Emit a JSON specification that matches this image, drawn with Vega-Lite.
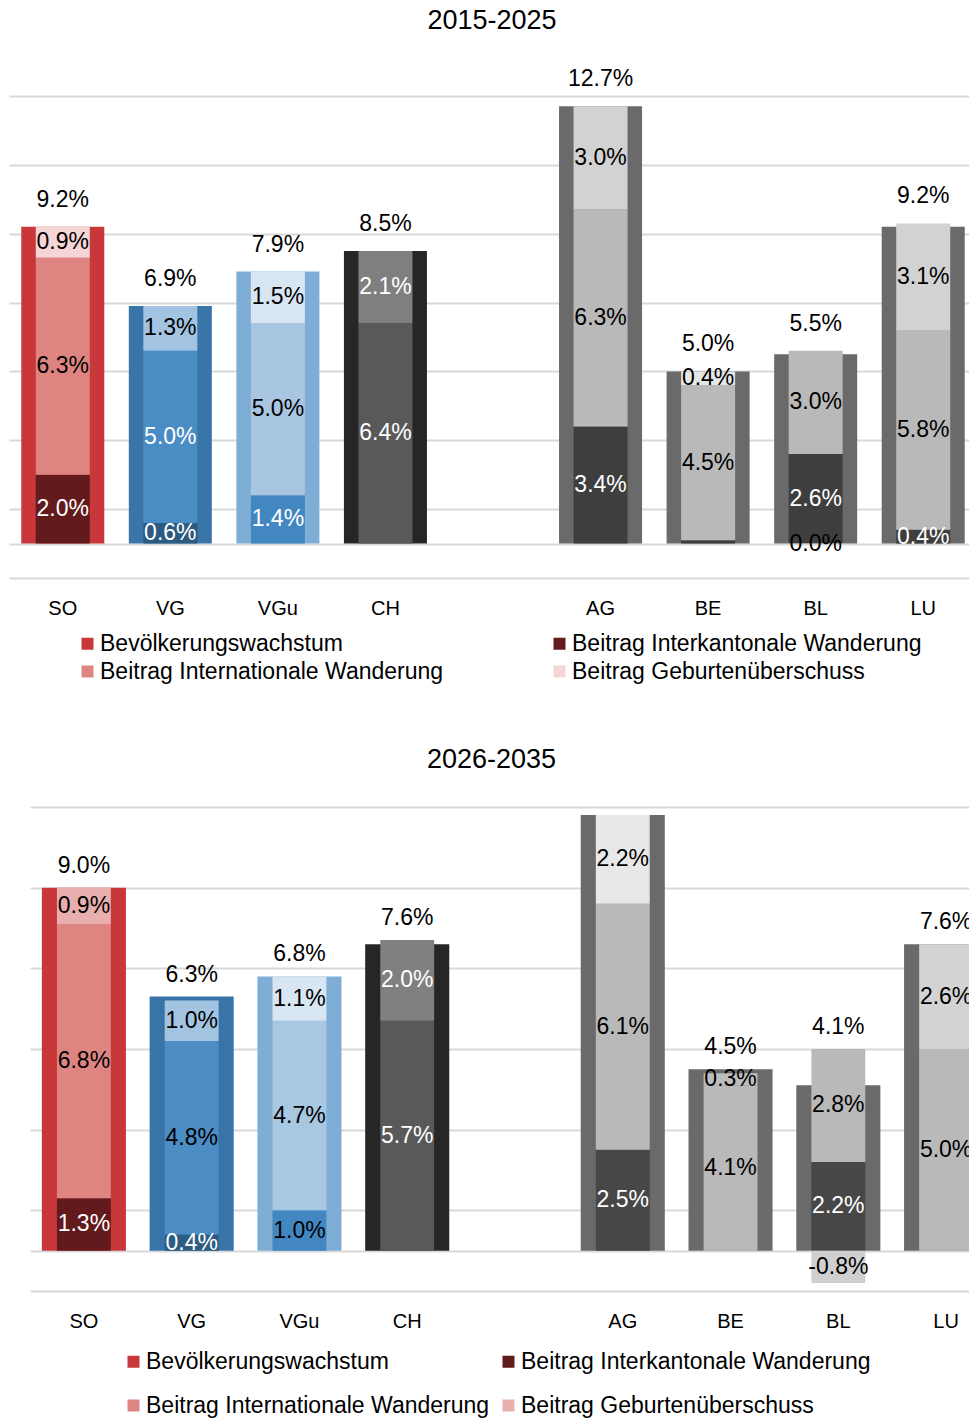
{
  "$schema": "https://vega.github.io/schema/vega-lite/v6.json",
  "padding": {"left": 9, "top": 7, "right": 0, "bottom": 0},
  "columns": 1,
  "spacing": 62,
  "resolve": {"scale": {"color": "independent", "fill": "independent"}, "legend": {"color": "independent", "fill": "independent"}},
  "config": {
    "view": {"stroke": null},
    "font": "Liberation Sans",
    "locale": {"number": {"decimal": ".", "thousands": ",", "grouping": [3], "currency": ["", ""], "minus": "-"}},
    "title": {"fontSize": 27, "fontWeight": "normal", "color": "#000000", "font": "Liberation Sans", "anchor": "middle"},
    "axisX": {"domain": false, "ticks": false, "tickSize": 0, "labelPadding": 20, "labelFontSize": 20, "labelColor": "#000000", "grid": false, "title": null, "labelAngle": 0},
    "axisY": {"domain": false, "ticks": false, "tickSize": 0, "labels": false, "grid": true, "gridColor": "#d9d9d9", "gridWidth": 2, "title": null, "minExtent": 0, "maxExtent": 0},
    "legend": {"padding": 0, "labelFontSize": 23, "labelColor": "#000000", "labelFont": "Liberation Sans", "symbolType": "square", "symbolSize": 144, "symbolStrokeWidth": 0, "symbolOpacity": 1, "labelOffset": 1, "labelLimit": 600}
  },
  "datasets": {
    "werte": [
      {"Zeitraum": "2015-2025", "Kanton": "SO", "Komponente": "Bevölkerungswachstum", "Ebene": "Gesamt", "Schicht": 0, "Reihe": "SO Gesamt", "Wert": 0.092},
      {"Zeitraum": "2015-2025", "Kanton": "SO", "Komponente": "Beitrag Interkantonale Wanderung", "Ebene": "Beitrag", "Schicht": 1, "Reihe": "SO Interkantonal", "Wert": 0.020},
      {"Zeitraum": "2015-2025", "Kanton": "SO", "Komponente": "Beitrag Internationale Wanderung", "Ebene": "Beitrag", "Schicht": 2, "Reihe": "SO International", "Wert": 0.063},
      {"Zeitraum": "2015-2025", "Kanton": "SO", "Komponente": "Beitrag Geburtenüberschuss", "Ebene": "Beitrag", "Schicht": 3, "Reihe": "SO Geburten", "Wert": 0.009},
      {"Zeitraum": "2015-2025", "Kanton": "VG", "Komponente": "Bevölkerungswachstum", "Ebene": "Gesamt", "Schicht": 0, "Reihe": "VG Gesamt", "Wert": 0.069},
      {"Zeitraum": "2015-2025", "Kanton": "VG", "Komponente": "Beitrag Interkantonale Wanderung", "Ebene": "Beitrag", "Schicht": 1, "Reihe": "VG Interkantonal", "Wert": 0.006},
      {"Zeitraum": "2015-2025", "Kanton": "VG", "Komponente": "Beitrag Internationale Wanderung", "Ebene": "Beitrag", "Schicht": 2, "Reihe": "VG International", "Wert": 0.050},
      {"Zeitraum": "2015-2025", "Kanton": "VG", "Komponente": "Beitrag Geburtenüberschuss", "Ebene": "Beitrag", "Schicht": 3, "Reihe": "VG Geburten", "Wert": 0.013},
      {"Zeitraum": "2015-2025", "Kanton": "VGu", "Komponente": "Bevölkerungswachstum", "Ebene": "Gesamt", "Schicht": 0, "Reihe": "VGu Gesamt", "Wert": 0.079},
      {"Zeitraum": "2015-2025", "Kanton": "VGu", "Komponente": "Beitrag Interkantonale Wanderung", "Ebene": "Beitrag", "Schicht": 1, "Reihe": "VGu Interkantonal", "Wert": 0.014},
      {"Zeitraum": "2015-2025", "Kanton": "VGu", "Komponente": "Beitrag Internationale Wanderung", "Ebene": "Beitrag", "Schicht": 2, "Reihe": "VGu International", "Wert": 0.050},
      {"Zeitraum": "2015-2025", "Kanton": "VGu", "Komponente": "Beitrag Geburtenüberschuss", "Ebene": "Beitrag", "Schicht": 3, "Reihe": "VGu Geburten", "Wert": 0.015},
      {"Zeitraum": "2015-2025", "Kanton": "CH", "Komponente": "Bevölkerungswachstum", "Ebene": "Gesamt", "Schicht": 0, "Reihe": "CH Gesamt", "Wert": 0.085},
      {"Zeitraum": "2015-2025", "Kanton": "CH", "Komponente": "Beitrag Internationale Wanderung", "Ebene": "Beitrag", "Schicht": 2, "Reihe": "CH International", "Wert": 0.064},
      {"Zeitraum": "2015-2025", "Kanton": "CH", "Komponente": "Beitrag Geburtenüberschuss", "Ebene": "Beitrag", "Schicht": 3, "Reihe": "CH Geburten", "Wert": 0.021},
      {"Zeitraum": "2015-2025", "Kanton": "AG", "Komponente": "Bevölkerungswachstum", "Ebene": "Gesamt", "Schicht": 0, "Reihe": "AG Gesamt", "Wert": 0.127},
      {"Zeitraum": "2015-2025", "Kanton": "AG", "Komponente": "Beitrag Interkantonale Wanderung", "Ebene": "Beitrag", "Schicht": 1, "Reihe": "AG Interkantonal", "Wert": 0.034},
      {"Zeitraum": "2015-2025", "Kanton": "AG", "Komponente": "Beitrag Internationale Wanderung", "Ebene": "Beitrag", "Schicht": 2, "Reihe": "AG International", "Wert": 0.063},
      {"Zeitraum": "2015-2025", "Kanton": "AG", "Komponente": "Beitrag Geburtenüberschuss", "Ebene": "Beitrag", "Schicht": 3, "Reihe": "AG Geburten", "Wert": 0.030},
      {"Zeitraum": "2015-2025", "Kanton": "BE", "Komponente": "Bevölkerungswachstum", "Ebene": "Gesamt", "Schicht": 0, "Reihe": "BE Gesamt", "Wert": 0.050},
      {"Zeitraum": "2015-2025", "Kanton": "BE", "Komponente": "Beitrag Interkantonale Wanderung", "Ebene": "Beitrag", "Schicht": 1, "Reihe": "BE Interkantonal", "Wert": 0.001},
      {"Zeitraum": "2015-2025", "Kanton": "BE", "Komponente": "Beitrag Internationale Wanderung", "Ebene": "Beitrag", "Schicht": 2, "Reihe": "BE International", "Wert": 0.045},
      {"Zeitraum": "2015-2025", "Kanton": "BE", "Komponente": "Beitrag Geburtenüberschuss", "Ebene": "Beitrag", "Schicht": 3, "Reihe": "BE Geburten", "Wert": 0.004},
      {"Zeitraum": "2015-2025", "Kanton": "BL", "Komponente": "Bevölkerungswachstum", "Ebene": "Gesamt", "Schicht": 0, "Reihe": "BL Gesamt", "Wert": 0.055},
      {"Zeitraum": "2015-2025", "Kanton": "BL", "Komponente": "Beitrag Interkantonale Wanderung", "Ebene": "Beitrag", "Schicht": 1, "Reihe": "BL Interkantonal", "Wert": 0.026},
      {"Zeitraum": "2015-2025", "Kanton": "BL", "Komponente": "Beitrag Internationale Wanderung", "Ebene": "Beitrag", "Schicht": 2, "Reihe": "BL International", "Wert": 0.030},
      {"Zeitraum": "2015-2025", "Kanton": "BL", "Komponente": "Beitrag Geburtenüberschuss", "Ebene": "Beitrag", "Schicht": 3, "Reihe": "BL Geburten", "Wert": -0.0002},
      {"Zeitraum": "2015-2025", "Kanton": "LU", "Komponente": "Bevölkerungswachstum", "Ebene": "Gesamt", "Schicht": 0, "Reihe": "LU Gesamt", "Wert": 0.092},
      {"Zeitraum": "2015-2025", "Kanton": "LU", "Komponente": "Beitrag Interkantonale Wanderung", "Ebene": "Beitrag", "Schicht": 1, "Reihe": "LU Interkantonal", "Wert": 0.004},
      {"Zeitraum": "2015-2025", "Kanton": "LU", "Komponente": "Beitrag Internationale Wanderung", "Ebene": "Beitrag", "Schicht": 2, "Reihe": "LU International", "Wert": 0.058},
      {"Zeitraum": "2015-2025", "Kanton": "LU", "Komponente": "Beitrag Geburtenüberschuss", "Ebene": "Beitrag", "Schicht": 3, "Reihe": "LU Geburten", "Wert": 0.031},

      {"Zeitraum": "2026-2035", "Kanton": "SO", "Komponente": "Bevölkerungswachstum", "Ebene": "Gesamt", "Schicht": 0, "Reihe": "SO Gesamt", "Wert": 0.090},
      {"Zeitraum": "2026-2035", "Kanton": "SO", "Komponente": "Beitrag Interkantonale Wanderung", "Ebene": "Beitrag", "Schicht": 1, "Reihe": "SO Interkantonal", "Wert": 0.013},
      {"Zeitraum": "2026-2035", "Kanton": "SO", "Komponente": "Beitrag Internationale Wanderung", "Ebene": "Beitrag", "Schicht": 2, "Reihe": "SO International", "Wert": 0.068},
      {"Zeitraum": "2026-2035", "Kanton": "SO", "Komponente": "Beitrag Geburtenüberschuss", "Ebene": "Beitrag", "Schicht": 3, "Reihe": "SO Geburten", "Wert": 0.009},
      {"Zeitraum": "2026-2035", "Kanton": "VG", "Komponente": "Bevölkerungswachstum", "Ebene": "Gesamt", "Schicht": 0, "Reihe": "VG Gesamt", "Wert": 0.063},
      {"Zeitraum": "2026-2035", "Kanton": "VG", "Komponente": "Beitrag Interkantonale Wanderung", "Ebene": "Beitrag", "Schicht": 1, "Reihe": "VG Interkantonal", "Wert": 0.004},
      {"Zeitraum": "2026-2035", "Kanton": "VG", "Komponente": "Beitrag Internationale Wanderung", "Ebene": "Beitrag", "Schicht": 2, "Reihe": "VG International", "Wert": 0.048},
      {"Zeitraum": "2026-2035", "Kanton": "VG", "Komponente": "Beitrag Geburtenüberschuss", "Ebene": "Beitrag", "Schicht": 3, "Reihe": "VG Geburten", "Wert": 0.010},
      {"Zeitraum": "2026-2035", "Kanton": "VGu", "Komponente": "Bevölkerungswachstum", "Ebene": "Gesamt", "Schicht": 0, "Reihe": "VGu Gesamt", "Wert": 0.068},
      {"Zeitraum": "2026-2035", "Kanton": "VGu", "Komponente": "Beitrag Interkantonale Wanderung", "Ebene": "Beitrag", "Schicht": 1, "Reihe": "VGu Interkantonal", "Wert": 0.010},
      {"Zeitraum": "2026-2035", "Kanton": "VGu", "Komponente": "Beitrag Internationale Wanderung", "Ebene": "Beitrag", "Schicht": 2, "Reihe": "VGu International", "Wert": 0.047},
      {"Zeitraum": "2026-2035", "Kanton": "VGu", "Komponente": "Beitrag Geburtenüberschuss", "Ebene": "Beitrag", "Schicht": 3, "Reihe": "VGu Geburten", "Wert": 0.011},
      {"Zeitraum": "2026-2035", "Kanton": "CH", "Komponente": "Bevölkerungswachstum", "Ebene": "Gesamt", "Schicht": 0, "Reihe": "CH Gesamt", "Wert": 0.076},
      {"Zeitraum": "2026-2035", "Kanton": "CH", "Komponente": "Beitrag Internationale Wanderung", "Ebene": "Beitrag", "Schicht": 2, "Reihe": "CH International", "Wert": 0.057},
      {"Zeitraum": "2026-2035", "Kanton": "CH", "Komponente": "Beitrag Geburtenüberschuss", "Ebene": "Beitrag", "Schicht": 3, "Reihe": "CH Geburten", "Wert": 0.020},
      {"Zeitraum": "2026-2035", "Kanton": "AG", "Komponente": "Bevölkerungswachstum", "Ebene": "Gesamt", "Schicht": 0, "Reihe": "AG Gesamt", "Wert": 0.108},
      {"Zeitraum": "2026-2035", "Kanton": "AG", "Komponente": "Beitrag Interkantonale Wanderung", "Ebene": "Beitrag", "Schicht": 1, "Reihe": "AG Interkantonal", "Wert": 0.025},
      {"Zeitraum": "2026-2035", "Kanton": "AG", "Komponente": "Beitrag Internationale Wanderung", "Ebene": "Beitrag", "Schicht": 2, "Reihe": "AG International", "Wert": 0.061},
      {"Zeitraum": "2026-2035", "Kanton": "AG", "Komponente": "Beitrag Geburtenüberschuss", "Ebene": "Beitrag", "Schicht": 3, "Reihe": "AG Geburten", "Wert": 0.022},
      {"Zeitraum": "2026-2035", "Kanton": "BE", "Komponente": "Bevölkerungswachstum", "Ebene": "Gesamt", "Schicht": 0, "Reihe": "BE Gesamt", "Wert": 0.045},
      {"Zeitraum": "2026-2035", "Kanton": "BE", "Komponente": "Beitrag Internationale Wanderung", "Ebene": "Beitrag", "Schicht": 2, "Reihe": "BE International", "Wert": 0.041},
      {"Zeitraum": "2026-2035", "Kanton": "BE", "Komponente": "Beitrag Geburtenüberschuss", "Ebene": "Beitrag", "Schicht": 3, "Reihe": "BE Geburten", "Wert": 0.003},
      {"Zeitraum": "2026-2035", "Kanton": "BL", "Komponente": "Bevölkerungswachstum", "Ebene": "Gesamt", "Schicht": 0, "Reihe": "BL Gesamt", "Wert": 0.041},
      {"Zeitraum": "2026-2035", "Kanton": "BL", "Komponente": "Beitrag Interkantonale Wanderung", "Ebene": "Beitrag", "Schicht": 1, "Reihe": "BL Interkantonal", "Wert": 0.022},
      {"Zeitraum": "2026-2035", "Kanton": "BL", "Komponente": "Beitrag Internationale Wanderung", "Ebene": "Beitrag", "Schicht": 2, "Reihe": "BL International", "Wert": 0.028},
      {"Zeitraum": "2026-2035", "Kanton": "BL", "Komponente": "Beitrag Geburtenüberschuss", "Ebene": "Beitrag", "Schicht": 3, "Reihe": "BL Geburten", "Wert": -0.008},
      {"Zeitraum": "2026-2035", "Kanton": "LU", "Komponente": "Bevölkerungswachstum", "Ebene": "Gesamt", "Schicht": 0, "Reihe": "LU Gesamt", "Wert": 0.076},
      {"Zeitraum": "2026-2035", "Kanton": "LU", "Komponente": "Beitrag Internationale Wanderung", "Ebene": "Beitrag", "Schicht": 2, "Reihe": "LU International", "Wert": 0.050},
      {"Zeitraum": "2026-2035", "Kanton": "LU", "Komponente": "Beitrag Geburtenüberschuss", "Ebene": "Beitrag", "Schicht": 3, "Reihe": "LU Geburten", "Wert": 0.026}
    ],
    "legende": [
      {"Komponente": "Bevölkerungswachstum"},
      {"Komponente": "Beitrag Interkantonale Wanderung"},
      {"Komponente": "Beitrag Internationale Wanderung"},
      {"Komponente": "Beitrag Geburtenüberschuss"}
    ],
    "leer": [{"Platz": ""}]
  },
  "concat": [
    {
      "width": 960,
      "height": 482,
      "title": {"text": "2015-2025", "offset": 33, "dx": 3},
      "layer": [
        {
          "data": {"name": "werte"},
          "transform": [{"filter": "datum.Zeitraum == '2015-2025' && datum.Ebene == 'Gesamt'"}],
          "mark": {"type": "bar", "width": {"band": 0.772}},
          "encoding": {
            "x": {"field": "Kanton", "type": "nominal", "title": null, "scale": {"domain": ["SO", "VG", "VGu", "CH", " ", "AG", "BE", "BL", "LU"], "range": [0, 968], "paddingInner": 0, "paddingOuter": 0}},
            "y": {"field": "Wert", "type": "quantitative", "title": null, "scale": {"domain": [-0.01, 0.13], "nice": false, "zero": false}, "axis": {"values": [-0.01, 0, 0.01, 0.03, 0.05, 0.07, 0.09, 0.11, 0.13]}},
            "fill": {"field": "Reihe", "type": "nominal", "legend": null, "scale": {
              "domain": ["SO Gesamt", "SO Interkantonal", "SO International", "SO Geburten", "VG Gesamt", "VG Interkantonal", "VG International", "VG Geburten", "VGu Gesamt", "VGu Interkantonal", "VGu International", "VGu Geburten", "CH Gesamt", "CH International", "CH Geburten", "AG Gesamt", "AG Interkantonal", "AG International", "AG Geburten", "BE Gesamt", "BE Interkantonal", "BE International", "BE Geburten", "BL Gesamt", "BL Interkantonal", "BL International", "BL Geburten", "LU Gesamt", "LU Interkantonal", "LU International", "LU Geburten"],
              "range": ["#c8373a", "#621a1c", "#de8582", "#f5d5d5", "#3975a9", "#2c5a80", "#4a8cc4", "#a2c3e1", "#7eadd5", "#4387c1", "#a8c6e1", "#d8e6f3", "#262626", "#595959", "#7f7f7f", "#6a6a6a", "#3e3e3e", "#b9b9b9", "#d2d2d2", "#6a6a6a", "#3e3e3e", "#b9b9b9", "#e6e6e6", "#6a6a6a", "#3e3e3e", "#b9b9b9", "#d2d2d2", "#6a6a6a", "#3e3e3e", "#b9b9b9", "#d2d2d2"]}}
          }
        },
        {
          "data": {"name": "werte"},
          "transform": [{"filter": "datum.Zeitraum == '2015-2025' && datum.Ebene == 'Beitrag'"}],
          "mark": {"type": "bar", "width": {"band": 0.502}},
          "encoding": {
            "x": {"field": "Kanton", "type": "nominal", "title": null},
            "y": {"field": "Wert", "type": "quantitative", "title": null, "stack": "zero"},
            "fill": {"field": "Reihe", "type": "nominal", "legend": null},
            "order": {"field": "Schicht", "type": "quantitative"}
          }
        },
        {
          "data": {"name": "werte"},
          "transform": [{"filter": "datum.Zeitraum == '2015-2025' && datum.Ebene == 'Beitrag'"}],
          "mark": {"type": "text", "fontSize": 23, "baseline": "middle", "align": "center"},
          "encoding": {
            "x": {"field": "Kanton", "type": "nominal", "title": null},
            "y": {"field": "Wert", "type": "quantitative", "title": null, "stack": "zero", "bandPosition": 0.5},
            "detail": {"field": "Reihe", "type": "nominal"},
            "order": {"field": "Schicht", "type": "quantitative"},
            "text": {"field": "Wert", "type": "quantitative", "format": ".1%"},
            "color": {"condition": {"test": "indexof(['SO Interkantonal','VG Interkantonal','VG International','VGu Interkantonal','CH International','CH Geburten','AG Interkantonal','BL Interkantonal','LU Interkantonal'], datum.Reihe) >= 0", "value": "#ffffff"}, "value": "#000000"},
            "opacity": {"condition": {"test": "datum.Reihe == 'BE Interkantonal'", "value": 0}, "value": 1}
          }
        },
        {
          "data": {"name": "werte"},
          "transform": [
            {"filter": "datum.Zeitraum == '2015-2025'"},
            {"stack": "Wert", "groupby": ["Kanton", "Ebene"], "sort": [{"field": "Schicht", "order": "ascending"}], "as": ["unten", "oben_einzeln"]},
            {"joinaggregate": [{"op": "max", "field": "oben_einzeln", "as": "oben"}], "groupby": ["Kanton"]},
            {"filter": "datum.Ebene == 'Gesamt'"}
          ],
          "mark": {"type": "text", "fontSize": 23, "baseline": "middle", "align": "center", "dy": -27, "color": "#000000"},
          "encoding": {
            "x": {"field": "Kanton", "type": "nominal", "title": null},
            "y": {"field": "oben", "type": "quantitative", "title": null},
            "text": {"field": "Wert", "type": "quantitative", "format": ".1%"}
          }
        },
        {
          "data": {"name": "legende"},
          "mark": {"type": "text", "text": " "},
          "encoding": {
            "color": {"field": "Komponente", "type": "nominal", "scale": {"domain": ["Bevölkerungswachstum", "Beitrag Internationale Wanderung", "Beitrag Interkantonale Wanderung", "Beitrag Geburtenüberschuss"], "range": ["#c8373a", "#de8582", "#621a1c", "#f5d5d5"]}, "legend": {"orient": "none", "legendX": 67, "legendY": 536, "columns": 2, "columnPadding": 104, "rowPadding": 4, "title": null}}
          }
        }
      ]
    },
    {
      "spacing": 0,
      "resolve": {"scale": {"color": "independent", "fill": "independent"}, "legend": {"color": "independent", "fill": "independent"}},
      "hconcat": [
        {
          "width": 21,
          "height": 1,
          "data": {"name": "leer"},
          "mark": {"type": "text", "text": " "}
        },
        {
          "width": 939,
          "height": 484,
          "title": {"text": "2026-2035", "offset": 33, "dx": -8},
          "layer": [
            {
              "data": {"name": "werte"},
              "transform": [{"filter": "datum.Zeitraum == '2026-2035' && datum.Ebene == 'Gesamt'"}],
              "mark": {"type": "bar", "width": {"band": 0.78}, "clip": true},
              "encoding": {
                "x": {"field": "Kanton", "type": "nominal", "title": null, "scale": {"domain": ["SO", "VG", "VGu", "CH", " ", "AG", "BE", "BL", "LU"], "range": [0, 970], "paddingInner": 0, "paddingOuter": 0}},
                "y": {"field": "Wert", "type": "quantitative", "title": null, "scale": {"domain": [-0.01, 0.11], "nice": false, "zero": false}, "axis": {"values": [-0.01, 0, 0.01, 0.03, 0.05, 0.07, 0.09, 0.11]}},
                "fill": {"field": "Reihe", "type": "nominal", "legend": null, "scale": {
                  "domain": ["SO Gesamt", "SO Interkantonal", "SO International", "SO Geburten", "VG Gesamt", "VG Interkantonal", "VG International", "VG Geburten", "VGu Gesamt", "VGu Interkantonal", "VGu International", "VGu Geburten", "CH Gesamt", "CH International", "CH Geburten", "AG Gesamt", "AG Interkantonal", "AG International", "AG Geburten", "BE Gesamt", "BE International", "BE Geburten", "BL Gesamt", "BL Interkantonal", "BL International", "BL Geburten", "LU Gesamt", "LU International", "LU Geburten"],
                  "range": ["#c8373a", "#621a1c", "#de8582", "#e9aeae", "#3874a7", "#2d5c82", "#4b8dc4", "#a3c4e1", "#7eadd5", "#4287c2", "#a8c7e1", "#d7e6f2", "#262626", "#595959", "#808080", "#6a6a6a", "#474747", "#b9b9b9", "#e8e8e8", "#6a6a6a", "#b9b9b9", "#bdbdbd", "#6a6a6a", "#474747", "#b9b9b9", "#cfcfcf", "#6a6a6a", "#b9b9b9", "#d3d3d3"]}}
              }
            },
            {
              "data": {"name": "werte"},
              "transform": [{"filter": "datum.Zeitraum == '2026-2035' && datum.Ebene == 'Beitrag'"}],
              "mark": {"type": "bar", "width": {"band": 0.5}, "clip": true},
              "encoding": {
                "x": {"field": "Kanton", "type": "nominal", "title": null},
                "y": {"field": "Wert", "type": "quantitative", "title": null, "stack": "zero"},
                "fill": {"field": "Reihe", "type": "nominal", "legend": null},
                "order": {"field": "Schicht", "type": "quantitative"}
              }
            },
            {
              "data": {"name": "werte"},
              "transform": [{"filter": "datum.Zeitraum == '2026-2035' && datum.Ebene == 'Beitrag'"}],
              "mark": {"type": "text", "fontSize": 23, "baseline": "middle", "align": "center", "clip": true},
              "encoding": {
                "x": {"field": "Kanton", "type": "nominal", "title": null},
                "y": {"field": "Wert", "type": "quantitative", "title": null, "stack": "zero", "bandPosition": 0.5},
                "detail": {"field": "Reihe", "type": "nominal"},
                "order": {"field": "Schicht", "type": "quantitative"},
                "text": {"field": "Wert", "type": "quantitative", "format": ".1%"},
                "color": {"condition": {"test": "indexof(['SO Interkantonal','VG Interkantonal','CH International','CH Geburten','AG Interkantonal','BL Interkantonal'], datum.Reihe) >= 0", "value": "#ffffff"}, "value": "#000000"}
              }
            },
            {
              "data": {"name": "werte"},
              "transform": [
                {"filter": "datum.Zeitraum == '2026-2035'"},
                {"stack": "Wert", "groupby": ["Kanton", "Ebene"], "sort": [{"field": "Schicht", "order": "ascending"}], "as": ["unten", "oben_einzeln"]},
                {"joinaggregate": [{"op": "max", "field": "oben_einzeln", "as": "oben"}], "groupby": ["Kanton"]},
                {"filter": "datum.Ebene == 'Gesamt'"}
              ],
              "mark": {"type": "text", "fontSize": 23, "baseline": "middle", "align": "center", "dy": -22, "color": "#000000", "clip": true},
              "encoding": {
                "x": {"field": "Kanton", "type": "nominal", "title": null},
                "y": {"field": "oben", "type": "quantitative", "title": null},
                "text": {"field": "Wert", "type": "quantitative", "format": ".1%"}
              }
            },
            {
              "data": {"name": "legende"},
              "mark": {"type": "text", "text": " "},
              "encoding": {
                "color": {"field": "Komponente", "type": "nominal", "scale": {"domain": ["Bevölkerungswachstum", "Beitrag Internationale Wanderung", "Beitrag Interkantonale Wanderung", "Beitrag Geburtenüberschuss"], "range": ["#c8373a", "#de8582", "#621a1c", "#e9aeae"]}, "legend": {"orient": "none", "legendX": 92, "legendY": 543, "columns": 2, "columnPadding": 7, "rowPadding": 20, "title": null}}
              }
            }
          ]
        }
      ]
    }
  ]
}
